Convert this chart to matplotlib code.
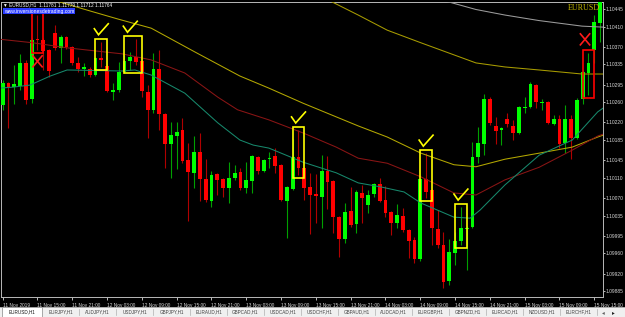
import matplotlib
matplotlib.use('Agg')
import matplotlib.pyplot as plt
from matplotlib.patches import Rectangle
import numpy as np

plt.rcParams['font.family'] = ['Liberation Sans', 'DejaVu Sans']

W, H = 625, 317

# EURUSD H1 bars, 11 Nov 2019 09:00 onwards
opens = [1.10255, 1.10298, 1.10290, 1.10292, 1.10338, 1.10266, 1.10385, 1.10383, 1.10364, 1.10397,
         1.10368, 1.10389, 1.10370, 1.10338, 1.10326, 1.10326, 1.10314, 1.10348, 1.10332, 1.10281,
         1.10284, 1.10320, 1.10342, 1.10350, 1.10342, 1.10280, 1.10245, 1.10326, 1.10237, 1.10177,
         1.10193, 1.10205, 1.10145, 1.10120, 1.10161, 1.10108, 1.10064, 1.10118, 1.10108, 1.10090,
         1.10110, 1.10122, 1.10090, 1.10104, 1.10151, 1.10124, 1.10147, 1.10153, 1.10135, 1.10064,
         1.10088, 1.10151, 1.10130, 1.10092, 1.10078, 1.10072, 1.10124, 1.10104, 1.10032, 1.09989,
         1.10044, 1.10018, 1.10080, 1.10056, 1.10078, 1.10098, 1.10066, 1.10042, 1.10020, 1.10034,
         1.10007, 1.09987, 1.09949, 1.10108, 1.10086, 1.10009, 1.09977, 1.09905, 1.09961, 1.09985,
         1.10009, 1.10012, 1.10151, 1.10177, 1.10266, 1.10213, 1.10205, 1.10227, 1.10213, 1.10199,
         1.10249, 1.10251, 1.10294, 1.10258, 1.10260, 1.10217, 1.10227, 1.10179, 1.10227, 1.10189,
         1.10266, 1.10318, 1.10364, 1.10417]
highs = [1.10304, 1.10300, 1.10334, 1.10356, 1.10344, 1.10387, 1.10433, 1.10387, 1.10366, 1.10413,
         1.10393, 1.10391, 1.10372, 1.10350, 1.10338, 1.10330, 1.10350, 1.10380, 1.10336, 1.10298,
         1.10340, 1.10354, 1.10360, 1.10385, 1.10344, 1.10294, 1.10358, 1.10364, 1.10239, 1.10221,
         1.10221, 1.10229, 1.10179, 1.10193, 1.10199, 1.10147, 1.10124, 1.10120, 1.10110, 1.10141,
         1.10135, 1.10130, 1.10141, 1.10155, 1.10153, 1.10147, 1.10161, 1.10169, 1.10137, 1.10094,
         1.10187, 1.10205, 1.10132, 1.10120, 1.10118, 1.10155, 1.10153, 1.10106, 1.10034, 1.10060,
         1.10092, 1.10086, 1.10096, 1.10086, 1.10100, 1.10110, 1.10094, 1.10044, 1.10058, 1.10050,
         1.10009, 1.09993, 1.10110, 1.10159, 1.10088, 1.10046, 1.10003, 1.09989, 1.10003, 1.10052,
         1.10014, 1.10181, 1.10211, 1.10276, 1.10270, 1.10231, 1.10211, 1.10239, 1.10225, 1.10253,
         1.10270, 1.10300, 1.10296, 1.10266, 1.10262, 1.10235, 1.10235, 1.10255, 1.10235, 1.10268,
         1.10324, 1.10358, 1.10433, 1.10479]
lows = [1.10245, 1.10209, 1.10256, 1.10284, 1.10256, 1.10258, 1.10364, 1.10324, 1.10310, 1.10364,
        1.10338, 1.10366, 1.10334, 1.10320, 1.10312, 1.10310, 1.10312, 1.10330, 1.10280, 1.10264,
        1.10280, 1.10318, 1.10324, 1.10334, 1.10270, 1.10189, 1.10239, 1.10205, 1.10130, 1.10110,
        1.10128, 1.10139, 1.10024, 1.10090, 1.10064, 1.10062, 1.10052, 1.10076, 1.10072, 1.10060,
        1.10106, 1.10086, 1.10080, 1.10080, 1.10118, 1.10122, 1.10130, 1.10120, 1.10064, 1.09991,
        1.10086, 1.10116, 1.10066, 1.09999, 1.10020, 1.10010, 1.10048, 1.10001, 1.09953, 1.09981,
        1.10012, 1.10001, 1.10020, 1.10040, 1.10072, 1.10062, 1.10032, 1.09997, 1.10010, 1.10003,
        1.09951, 1.09941, 1.09945, 1.10070, 1.09977, 1.09971, 1.09891, 1.09897, 1.09937, 1.09977,
        1.09927, 1.10010, 1.10139, 1.10155, 1.10215, 1.10177, 1.10175, 1.10211, 1.10185, 1.10197,
        1.10239, 1.10249, 1.10249, 1.10245, 1.10217, 1.10215, 1.10169, 1.10159, 1.10147, 1.10187,
        1.10256, 1.10274, 1.10338, 1.10380]
closes = [1.10298, 1.10290, 1.10296, 1.10338, 1.10264, 1.10383, 1.10383, 1.10362, 1.10322, 1.10368,
          1.10389, 1.10370, 1.10338, 1.10326, 1.10330, 1.10314, 1.10348, 1.10344, 1.10282, 1.10284,
          1.10320, 1.10342, 1.10350, 1.10340, 1.10282, 1.10245, 1.10326, 1.10237, 1.10177, 1.10195,
          1.10201, 1.10143, 1.10122, 1.10161, 1.10108, 1.10066, 1.10116, 1.10106, 1.10090, 1.10110,
          1.10120, 1.10090, 1.10106, 1.10153, 1.10124, 1.10145, 1.10149, 1.10133, 1.10066, 1.10092,
          1.10151, 1.10130, 1.10090, 1.10076, 1.10074, 1.10124, 1.10102, 1.10032, 1.09989, 1.10042,
          1.10016, 1.10082, 1.10070, 1.10076, 1.10098, 1.10064, 1.10040, 1.10020, 1.10036, 1.10007,
          1.09985, 1.09949, 1.10108, 1.10082, 1.10010, 1.09977, 1.09903, 1.09963, 1.09985, 1.10010,
          1.10011, 1.10151, 1.10179, 1.10266, 1.10219, 1.10203, 1.10209, 1.10217, 1.10199, 1.10251,
          1.10251, 1.10296, 1.10260, 1.10260, 1.10219, 1.10227, 1.10177, 1.10227, 1.10189, 1.10264,
          1.10320, 1.10338, 1.10419, 1.10473]

# moving averages (bar index, price)
teal_x = [-0.5, 1.8, 4.7, 8.2, 11.1, 20.6, 22.8, 25.6, 31.4, 37.1, 40.9, 43.2, 45.9, 51.8, 57.5,
          61.3, 65.2, 69.2, 72.1, 77.8, 80.6, 82.3, 86.6, 92.5, 98.2, 102.6, 103.6]
teal_y = [1.10288, 1.10290, 1.10294, 1.10312, 1.10324, 1.10322, 1.10324, 1.10314, 1.10278, 1.10219,
          1.10185, 1.10175, 1.10169, 1.10141, 1.10120, 1.10100, 1.10092, 1.10082, 1.10060, 1.10032,
          1.10030, 1.10046, 1.10096, 1.10155, 1.10185, 1.10241, 1.10249]
red_x = [-0.5, 5.2, 11.1, 20.6, 25.6, 31.4, 37.1, 40.5, 45.9, 51.8, 57.5, 61.3, 66.3, 72.1, 77.8,
         81.6, 86.6, 92.5, 98.2, 102.6, 103.6]
red_y = [1.10385, 1.10378, 1.10368, 1.10356, 1.10344, 1.10318, 1.10270, 1.10245, 1.10225, 1.10199,
         1.10171, 1.10149, 1.10139, 1.10112, 1.10080, 1.10076, 1.10106, 1.10131, 1.10165, 1.10193,
         1.10197]
gold_x = [7.3, 10.4, 15.1, 19.9, 25.6, 33.1, 40.9, 45.9, 51.8, 61.3, 66.3, 72.1, 77.8, 81.6, 86.6,
          92.5, 98.2, 102.6, 103.6]
gold_y = [1.10469, 1.10457, 1.10441, 1.10425, 1.10407, 1.10360, 1.10312, 1.10288, 1.10258, 1.10213,
          1.10191, 1.10159, 1.10136, 1.10132, 1.10147, 1.10159, 1.10171, 1.10191, 1.10195]
olive_x = [54.7, 56.1, 61.3, 66.3, 72.1, 77.8, 81.6, 86.6, 92.5, 99.9, 103.6]
olive_y = [1.10469, 1.10463, 1.10433, 1.10403, 1.10378, 1.10354, 1.10338, 1.10330, 1.10324, 1.10316,
           1.10316]
grey_x = [75.4, 76.9, 81.6, 86.6, 92.5, 99.9, 103.6]
grey_y = [1.10463, 1.10459, 1.10444, 1.10433, 1.10422, 1.10411, 1.10409]

times = ['11 Nov 2019', '11 Nov 15:00', '11 Nov 21:00', '12 Nov 03:00', '12 Nov 09:00',
         '12 Nov 15:00', '12 Nov 21:00', '13 Nov 03:00', '13 Nov 09:00', '13 Nov 15:00',
         '13 Nov 21:00', '14 Nov 03:00', '14 Nov 09:00', '14 Nov 15:00', '14 Nov 21:00',
         '15 Nov 03:00', '15 Nov 09:00', '15 Nov 15:00']
price_ticks = [1.10445, 1.10410, 1.10370, 1.10335, 1.10295, 1.10260, 1.10220, 1.10185,
               1.10145, 1.10110, 1.10070, 1.10035, 1.09995, 1.09960, 1.09920, 1.09885]
tabs = ['EURUSD,H1', 'EURJPY,H1', 'AUDJPY,H1', 'USDJPY,H1', 'GBPJPY,H1', 'EURAUD,H1',
        'GBPCAD,H1', 'USDCAD,H1', 'USDCHF,H1', 'GBPAUD,H1', 'AUDCAD,H1', 'EURGBP,H1',
        'GBPNZD,H1', 'EURCAD,H1', 'NZDUSD,H1', 'EURCHF,H1']

# marked setups: first bar, last bar, colour, mark
setups = [(17, 17, 'yellow', 'check'), (22, 23, 'yellow', 'check'), (51, 51, 'yellow', 'check'),
          (73, 73, 'yellow', 'check'), (79, 79, 'yellow', 'check'),
          (6, 6, 'red', 'x_below'), (101, 101, 'red', 'x_above')]

BULL, BEAR = '#00ff00', '#ff0000'
BULL_WICK, BEAR_WICK = '#00a000', '#b00000'
PX_PRICE = 0.001 / 50.4   # one screen pixel in price

fig = plt.figure(figsize=(W / 100, H / 100), dpi=100, facecolor='black')
ax = fig.add_axes([1 / W, 1 - 297 / H, 602 / W, 295 / H])
ax.set_facecolor('black')

o, h, l, c = map(np.array, (opens, highs, lows, closes))
x = np.arange(len(o))
up = c >= o
ax.vlines(x[up], l[up], h[up], color=BULL_WICK, lw=0.8, zorder=2)
ax.vlines(x[~up], l[~up], h[~up], color=BEAR_WICK, lw=0.8, zorder=2)
body_lo = np.minimum(o, c)
body_h = np.maximum(np.abs(c - o), PX_PRICE)
ax.bar(x[up], body_h[up], bottom=body_lo[up], width=0.66, color=BULL, lw=0, zorder=3)
ax.bar(x[~up], body_h[~up], bottom=body_lo[~up], width=0.66, color=BEAR, lw=0, zorder=3)

ax.plot(grey_x, grey_y, color='#9c9c9c', lw=0.75, zorder=4)
ax.plot(olive_x, olive_y, color='#a89c00', lw=0.75, zorder=4)
ax.plot(gold_x, gold_y, color='#b4a800', lw=0.75, zorder=4)
ax.plot(red_x, red_y, color='#8a1515', lw=0.75, zorder=4)
ax.plot(teal_x, teal_y, color='#17886c', lw=0.75, zorder=4)

# boxes, ticks and crosses
pad = 3 * PX_PRICE
for first, last, col, mark in setups:
    x0, x1 = first - 1.0, last + 1.0
    y0 = min(lows[first:last + 1]) - pad
    y1 = max(highs[first:last + 1]) + pad
    edge = '#ffff00' if col == 'yellow' else '#ff0000'
    ax.add_patch(Rectangle((x0, y0), x1 - x0, y1 - y0, fill=False, ec=edge, lw=1.2, zorder=5))
    if mark == 'check':
        w, ht = 2.4, 11 * PX_PRICE
        bx, by = x0 - 0.2, y1 + 4 * PX_PRICE
        ax.plot([bx, bx + 0.3 * w, bx + w], [by + 0.55 * ht, by, by + ht],
                color='#ffff00', lw=1.2, solid_joinstyle='miter', zorder=5)
    else:
        sx, sy = 0.8, 5.5 * PX_PRICE
        xc = (x0 + x1) / 2
        if mark == 'x_below':
            yc = y0 - 3 * PX_PRICE - sy
        else:
            xc -= 0.6
            yc = y1 + 5 * PX_PRICE + sy
        ax.plot([xc - sx, xc + sx], [yc - sy, yc + sy], color='#ff1a1a', lw=1.2, zorder=5)
        ax.plot([xc - sx, xc + sx], [yc + sy, yc - sy], color='#ff1a1a', lw=1.2, zorder=5)

ax.set_xlim(-0.29, 103.5)
ax.set_ylim(1.10445 - 288 * PX_PRICE, 1.10445 + 7 * PX_PRICE)

ax.set_xticks(np.arange(len(times)) * 6)
ax.set_xticklabels(times)
for lbl in ax.get_xticklabels():
    lbl.set_horizontalalignment('left')
ax.yaxis.tick_right()
ax.set_yticks(price_ticks)
ax.set_yticklabels([f'{p:.5f}' for p in price_ticks])
ax.tick_params(axis='x', colors='#d8d8d8', labelsize=3.4, length=2.5, width=0.6, pad=1.5)
ax.tick_params(axis='y', colors='#d8d8d8', labelsize=3.5, length=1.5, width=0.6, pad=0.6)
for sp in ax.spines.values():
    sp.set_color('#b8b8b8')
    sp.set_linewidth(0.7)

# header texts
fig.text(3 / W, 1 - 5 / H, '\u25bc EURUSD,H1  1.11781 1.11779 1.11712 1.11764',
         color='white', fontsize=3.4, va='center', ha='left')
fig.text(4 / W, 1 - 11 / H, 'www.inversionesdetrading.com', color='white', fontsize=3.6,
         va='center', ha='left', bbox=dict(facecolor='#2a3cff', edgecolor='none', pad=0.4))
fig.text(600 / W, 1 - 8.5 / H, 'EURUSD', color='#c8bc00', fontsize=5.8, va='center',
         ha='right', family='Liberation Serif')

# symbol tabs
tab_ax = fig.add_axes([0, 0, 1, 10 / H])
tab_ax.set_xlim(0, W)
tab_ax.set_ylim(0, 10)
tab_ax.set_facecolor('#f0f0f0')
tab_ax.axis('off')
tab_ax.add_patch(Rectangle((0, 0), W, 10, fc='#f0f0f0', ec='none'))
tab_ax.add_patch(Rectangle((1.5, 0.3), 40.5, 9.5, fc='white', ec='#9a9a9a', lw=0.6))
tab_ax.plot([0, W], [9.8, 9.8], color='#a0a0a0', lw=0.6)
step = 37
for k, name in enumerate(tabs):
    left = 2 if k == 0 else 42 + step * (k - 1)
    right = 42 + step * k
    tab_ax.text((left + right) / 2, 4.8, name, fontsize=3.3, ha='center', va='center',
                color='#111111' if k == 0 else '#404040')
    if k > 0:
        tab_ax.plot([right, right], [2, 8], color='#b0b0b0', lw=0.5)
tab_ax.text(603, 4.8, '\u25c2', fontsize=4, ha='center', va='center', color='#606060')
tab_ax.text(613, 4.8, '\u25b8', fontsize=4, ha='center', va='center', color='#202020')

fig.savefig('out.png', dpi=100, facecolor='black')
